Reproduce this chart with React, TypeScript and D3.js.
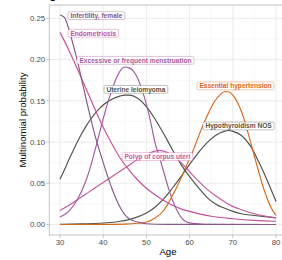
import React, { useEffect, useRef } from "react";
import * as d3 from "d3";

// ---- data (age, multinomial probability) ----
const infertilityAge = [30, 31, 32, 33, 34, 35, 36, 37, 38, 39, 40, 41, 42, 43, 44, 45, 46, 48, 50, 55, 60, 70, 80];
const infertilityProb = [0.254, 0.2512, 0.238, 0.219, 0.199, 0.176, 0.153, 0.131, 0.11, 0.092, 0.075, 0.059, 0.044, 0.031, 0.02, 0.012, 0.007, 0.003, 0.001, 0.0002, 0.0001, 0, 0];

const endometriosisAge = [30, 32, 34, 36, 38, 40, 42, 44, 46, 48, 50, 52, 55, 58, 60, 65, 70, 75, 80];
const endometriosisProb = [0.233, 0.212, 0.189, 0.165, 0.141, 0.118, 0.098, 0.08, 0.066, 0.054, 0.044, 0.036, 0.026, 0.019, 0.016, 0.01, 0.007, 0.005, 0.004];

const menstruationAge = [30, 32, 34, 36, 37, 38, 39, 40, 41, 42, 43, 44, 45, 46, 47, 48, 49, 50, 51, 52, 53, 54, 55, 56, 57, 58, 59, 60, 62, 65, 70, 80];
const menstruationProb = [0.009, 0.016, 0.03, 0.053, 0.069, 0.088, 0.108, 0.128, 0.147, 0.163, 0.177, 0.187, 0.191, 0.19, 0.186, 0.177, 0.163, 0.146, 0.124, 0.099, 0.082, 0.064, 0.046, 0.03, 0.018, 0.009, 0.004, 0.002, 0.001, 0.0003, 0.0001, 0];

const leiomyomaAge = [30, 31, 32, 33, 34, 35, 36, 37, 38, 39, 40, 42, 44, 45, 46, 48, 50, 52, 54, 56, 58, 60, 62, 64, 66, 68, 70, 72, 75, 80];
const leiomyomaProb = [0.055, 0.066, 0.078, 0.089, 0.1, 0.11, 0.119, 0.127, 0.134, 0.14, 0.145, 0.152, 0.156, 0.157, 0.157, 0.153, 0.143, 0.128, 0.11, 0.091, 0.073, 0.058, 0.045, 0.033, 0.025, 0.02, 0.016, 0.013, 0.011, 0.008];

const polypAge = [30, 32, 34, 36, 38, 40, 42, 44, 46, 48, 50, 52, 53, 54, 56, 58, 60, 62, 64, 66, 68, 70, 72, 75, 80];
const polypProb = [0.017, 0.023, 0.03, 0.037, 0.044, 0.051, 0.058, 0.065, 0.072, 0.079, 0.085, 0.089, 0.09, 0.089, 0.084, 0.075, 0.064, 0.053, 0.043, 0.035, 0.028, 0.022, 0.018, 0.013, 0.008];

const hypertensionAge = [30, 40, 45, 48, 50, 52, 54, 55, 56, 57, 58, 59, 60, 61, 62, 63, 64, 65, 66, 67, 68, 69, 70, 71, 72, 73, 74, 75, 76, 77, 78, 79, 80];
const hypertensionProb = [0, 0.0002, 0.0005, 0.0015, 0.003, 0.008, 0.017, 0.025, 0.035, 0.045, 0.056, 0.068, 0.08, 0.092, 0.106, 0.119, 0.131, 0.142, 0.151, 0.157, 0.161, 0.161, 0.157, 0.149, 0.137, 0.121, 0.102, 0.083, 0.064, 0.046, 0.031, 0.019, 0.011];

const hypothyroidismAge = [30, 35, 40, 44, 47, 50, 52, 54, 56, 58, 60, 62, 64, 66, 68, 69, 70, 72, 74, 76, 78, 80];
const hypothyroidismProb = [0.0003, 0.0008, 0.0018, 0.004, 0.0075, 0.014, 0.021, 0.031, 0.044, 0.058, 0.073, 0.087, 0.099, 0.108, 0.113, 0.114, 0.113, 0.108, 0.096, 0.076, 0.053, 0.028];

const seriesNames = [
  "Infertility, female",
  "Endometriosis",
  "Excessive or frequent menstruation",
  "Uterine leiomyoma",
  "Polyp of corpus uteri",
  "Essential hypertension",
  "Hypothyroidism NOS",
];
const seriesColors = ["#875887", "#c54f9b", "#a05aa2", "#50524a", "#c4589f", "#d8661a", "#50524a"];
const seriesAges = [infertilityAge, endometriosisAge, menstruationAge, leiomyomaAge, polypAge, hypertensionAge, hypothyroidismAge];
const seriesProbs = [infertilityProb, endometriosisProb, menstruationProb, leiomyomaProb, polypProb, hypertensionProb, hypothyroidismProb];

// label anchors (left edge age, centre probability)
const labelAge = [31.85, 31.85, 33.94, 40.19, 44.35, 61.71, 63.1];
const labelProb = [0.2533, 0.232, 0.1991, 0.1639, 0.0824, 0.1681, 0.1195];

const xTicks = [30, 40, 50, 60, 70, 80];
const xMinor = [35, 45, 55, 65, 75];
const yTicks = [0, 0.05, 0.1, 0.15, 0.2, 0.25];
const yMinor = [0.025, 0.075, 0.125, 0.175, 0.225];

const W = 282;
const H = 260;
const FONT = "'Liberation Sans', Arial, Helvetica, sans-serif";

export default function App() {
  const ref = useRef<SVGSVGElement>(null);

  useEffect(() => {
    const svg = d3.select(ref.current);
    svg.selectAll("*").remove();

    const left = 49.2;
    const right = 286.8;
    const top = 5;
    const bottom = 235;

    const x = d3.scaleLinear().domain([27.5, 82.5]).range([left, right]);
    const y = d3.scaleLinear().domain([-0.0127, 0.2662]).range([bottom, top]);

    svg.append("rect").attr("width", W).attr("height", H).attr("fill", "#ffffff");

    // partial title glyph at the very top
    svg
      .append("text")
      .attr("x", 49.5)
      .attr("y", -1.2)
      .attr("font-family", FONT)
      .attr("font-size", 11)
      .attr("font-weight", "bold")
      .attr("fill", "#000")
      .text("g");

    const grid = svg.append("g");
    xMinor.forEach((t) =>
      grid.append("line").attr("x1", x(t)).attr("x2", x(t)).attr("y1", top).attr("y2", bottom).attr("stroke", "#efefef").attr("stroke-width", 0.45)
    );
    yMinor.forEach((t) =>
      grid.append("line").attr("x1", left).attr("x2", right).attr("y1", y(t)).attr("y2", y(t)).attr("stroke", "#efefef").attr("stroke-width", 0.45)
    );
    xTicks.forEach((t) =>
      grid.append("line").attr("x1", x(t)).attr("x2", x(t)).attr("y1", top).attr("y2", bottom).attr("stroke", "#e2e2e2").attr("stroke-width", 0.7)
    );
    yTicks.forEach((t) =>
      grid.append("line").attr("x1", left).attr("x2", right).attr("y1", y(t)).attr("y2", y(t)).attr("stroke", "#e2e2e2").attr("stroke-width", 0.7)
    );

    // lines
    const line = d3
      .line<[number, number]>()
      .x((d) => x(d[0]))
      .y((d) => y(d[1]))
      .curve(d3.curveMonotoneX);

    const order = [6, 5, 3, 4, 1, 2, 0];
    order.forEach((i) => {
      const pts: [number, number][] = seriesAges[i].map((a, k) => [a, seriesProbs[i][k]]);
      svg
        .append("path")
        .attr("d", line(pts) as string)
        .attr("fill", "none")
        .attr("stroke", seriesColors[i])
        .attr("stroke-width", 1.15)
        .attr("stroke-linejoin", "round")
        .attr("stroke-linecap", "butt");
    });

    // panel border
    svg
      .append("rect")
      .attr("x", left)
      .attr("y", top)
      .attr("width", right - left)
      .attr("height", bottom - top)
      .attr("fill", "none")
      .attr("stroke", "#b3b3b3")
      .attr("stroke-width", 0.8);

    // labels
    seriesNames.forEach((name, i) => {
      const g = svg.append("g");
      const lx = x(labelAge[i]);
      const ly = y(labelProb[i]);
      const pad = 2.4;
      const rect = g.append("rect");
      const txt = g
        .append("text")
        .attr("x", lx + pad)
        .attr("y", ly)
        .attr("dy", "0.35em")
        .attr("font-family", FONT)
        .attr("font-size", 6.6)
        .attr("font-weight", "bold")
        .attr("fill", seriesColors[i])
        .text(name);
      const w = (txt.node() as SVGTextElement).getComputedTextLength();
      rect
        .attr("x", lx)
        .attr("y", ly - 3.9)
        .attr("width", w + 2 * pad)
        .attr("height", 7.8)
        .attr("rx", 1.5)
        .attr("fill", "#ffffff")
        .attr("fill-opacity", 0.95)
        .attr("stroke", seriesColors[i])
        .attr("stroke-opacity", 0.6)
        .attr("stroke-width", 0.6);
    });

    // ticks & tick labels
    const axes = svg.append("g").attr("font-family", FONT);
    yTicks.forEach((t) => {
      axes.append("line").attr("x1", left - 2.8).attr("x2", left).attr("y1", y(t)).attr("y2", y(t)).attr("stroke", "#b3b3b3").attr("stroke-width", 0.8);
      axes
        .append("text")
        .attr("x", left - 4)
        .attr("y", y(t))
        .attr("dy", "0.35em")
        .attr("text-anchor", "end")
        .attr("font-size", 7.8)
        .attr("fill", "#4d4d4d")
        .text(d3.format(".2f")(t));
    });
    xTicks.forEach((t) => {
      axes.append("line").attr("x1", x(t)).attr("x2", x(t)).attr("y1", bottom).attr("y2", bottom + 2.8).attr("stroke", "#b3b3b3").attr("stroke-width", 0.8);
      axes
        .append("text")
        .attr("x", x(t))
        .attr("y", bottom + 10)
        .attr("text-anchor", "middle")
        .attr("font-size", 7.8)
        .attr("fill", "#4d4d4d")
        .text(String(t));
    });

    axes
      .append("text")
      .attr("x", (left + right) / 2)
      .attr("y", 255)
      .attr("text-anchor", "middle")
      .attr("font-size", 9.6)
      .attr("fill", "#000")
      .text("Age");
    axes
      .append("text")
      .attr("transform", `translate(26,${(top + bottom) / 2}) rotate(-90)`)
      .attr("text-anchor", "middle")
      .attr("font-size", 9.6)
      .attr("fill", "#000")
      .text("Multinomial probability");
  }, []);

  return (
    <svg
      ref={ref}
      width={W}
      height={H}
      style={{ position: "absolute", left: 0, top: 0, display: "block" }}
    />
  );
}
